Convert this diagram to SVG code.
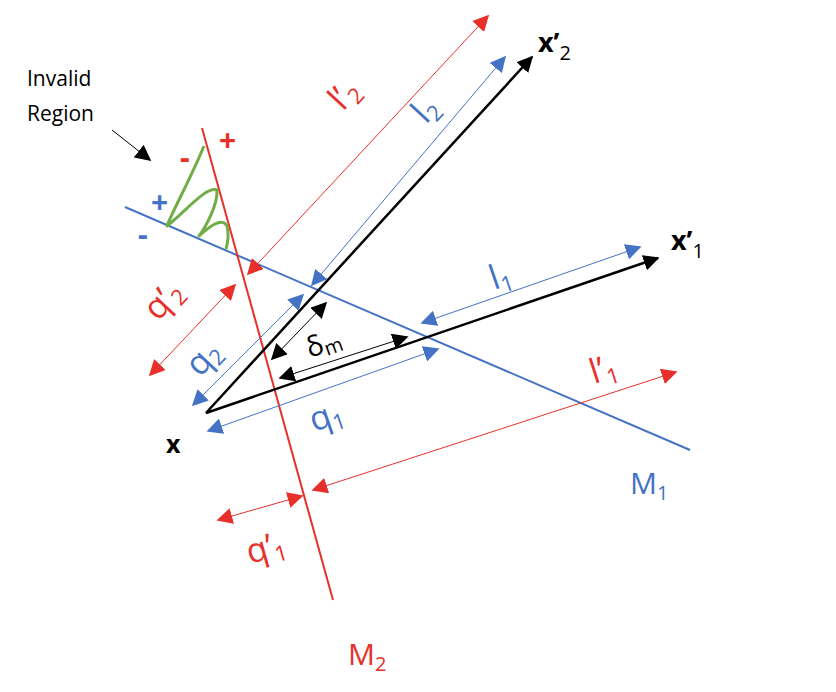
<svg xmlns="http://www.w3.org/2000/svg" width="836" height="692" viewBox="0 0 836 692">
<style>
text{font-family:"Open Sans","Liberation Sans",sans-serif}
.r{fill:#e8302a}.b{fill:#4472c4}.k{fill:#000}
.sub{font-size:22px}
.s{font-size:30px;font-weight:bold}
</style>
<defs>
<marker id="ar" viewBox="0 0 10 10" refX="9" refY="5" markerWidth="16" markerHeight="16" markerUnits="userSpaceOnUse" orient="auto-start-reverse"><path d="M0,0L10,5L0,10z" fill="#e8302a"/></marker>
<marker id="ab" viewBox="0 0 10 10" refX="9" refY="5" markerWidth="16" markerHeight="16" markerUnits="userSpaceOnUse" orient="auto-start-reverse"><path d="M0,0L10,5L0,10z" fill="#4472c4"/></marker>
<marker id="ak" viewBox="0 0 10 10" refX="9" refY="5" markerWidth="16" markerHeight="16" markerUnits="userSpaceOnUse" orient="auto-start-reverse"><path d="M0,0L10,5L0,10z" fill="#000"/></marker>
</defs>
<g id="lines">
<line x1="125" y1="207" x2="690" y2="450" stroke="#4472c4" stroke-width="2"/>
<line x1="202" y1="128" x2="333" y2="600" stroke="#e8302a" stroke-width="2"/>
<line x1="206" y1="413" x2="532" y2="57" stroke="#000" stroke-width="2.5" marker-end="url(#ak)"/>
<line x1="206" y1="413" x2="658" y2="258" stroke="#000" stroke-width="2.5" marker-end="url(#ak)"/>
<path d="M204,146 C190,180 172,212 167,226 C185,212 206,186 217,190 C218,205 205,228 199,236 C208,228 222,216 227,226 C229,234 228,242 226,249" fill="none" stroke="#70ad47" stroke-width="3" stroke-linejoin="round"/>
<line x1="112" y1="130" x2="150" y2="160" stroke="#000" stroke-width="1" marker-end="url(#ak)"/>
</g>
<g id="connectors" stroke-width="1">
<line x1="248" y1="274" x2="488" y2="16" stroke="#e8302a" marker-start="url(#ar)" marker-end="url(#ar)"/>
<line x1="312" y1="285" x2="505" y2="57" stroke="#4472c4" marker-start="url(#ab)" marker-end="url(#ab)"/>
<line x1="235" y1="285" x2="150" y2="375" stroke="#e8302a" marker-start="url(#ar)" marker-end="url(#ar)"/>
<line x1="303" y1="295" x2="193" y2="405" stroke="#4472c4" marker-start="url(#ab)" marker-end="url(#ab)"/>
<line x1="326" y1="303" x2="272" y2="359" stroke="#000" marker-start="url(#ak)" marker-end="url(#ak)"/>
<line x1="407" y1="337" x2="280" y2="378" stroke="#000" marker-start="url(#ak)" marker-end="url(#ak)"/>
<line x1="422" y1="323" x2="640" y2="247" stroke="#4472c4" marker-start="url(#ab)" marker-end="url(#ab)"/>
<line x1="438" y1="349" x2="208" y2="431" stroke="#4472c4" marker-start="url(#ab)" marker-end="url(#ab)"/>
<line x1="313" y1="490" x2="676" y2="372" stroke="#e8302a" marker-start="url(#ar)" marker-end="url(#ar)"/>
<line x1="218" y1="520" x2="302" y2="496" stroke="#e8302a" marker-start="url(#ar)" marker-end="url(#ar)"/>
</g>
<g id="labels" font-size="34">
<text x="27" y="86" font-size="21" class="k">Invalid</text>
<text x="27" y="121" font-size="21" class="k">Region</text>
<text x="180" y="168" class="r s">-</text>
<text x="219" y="151" class="r s">+</text>
<text x="151" y="213" class="b s">+</text>
<text x="138" y="245" class="b s">-</text>
<text x="166" y="453" class="k" font-size="25" font-weight="bold">x</text>
<text x="538" y="52" class="k" font-size="27" font-weight="bold">x’<tspan font-size="20" font-weight="normal" dy="8">2</tspan></text>
<text x="671" y="250" class="k" font-size="27" font-weight="bold">x’<tspan font-size="20" font-weight="normal" dy="8">1</tspan></text>
<text x="630" y="494" class="b" font-size="30">M<tspan font-size="20" dy="6">1</tspan></text>
<text x="348" y="665" class="r" font-size="30">M<tspan font-size="20" dy="6">2</tspan></text>
<text transform="translate(343,112) rotate(-47)" class="r">l’<tspan class="sub" dy="6">2</tspan></text>
<text transform="translate(426,125) rotate(-47)" class="b">l<tspan class="sub" dy="6">2</tspan></text>
<text transform="translate(158,322) rotate(-47)" class="r">q’<tspan class="sub" dy="6">2</tspan></text>
<text transform="translate(200,378) rotate(-47)" class="b">q<tspan class="sub" dy="6">2</tspan></text>
<text transform="translate(310,358) rotate(-20)" class="k" font-size="28">δ<tspan font-size="20" dy="4">m</tspan></text>
<text transform="translate(494,290) rotate(-19)" class="b">l<tspan class="sub" dy="6">1</tspan></text>
<text transform="translate(314,432) rotate(-19)" class="b">q<tspan class="sub" dy="6">1</tspan></text>
<text transform="translate(594,384) rotate(-18)" class="r">l’<tspan class="sub" dy="6">1</tspan></text>
<text transform="translate(250,564) rotate(-16)" class="r">q’<tspan class="sub" dy="6">1</tspan></text>
</g>
</svg>
